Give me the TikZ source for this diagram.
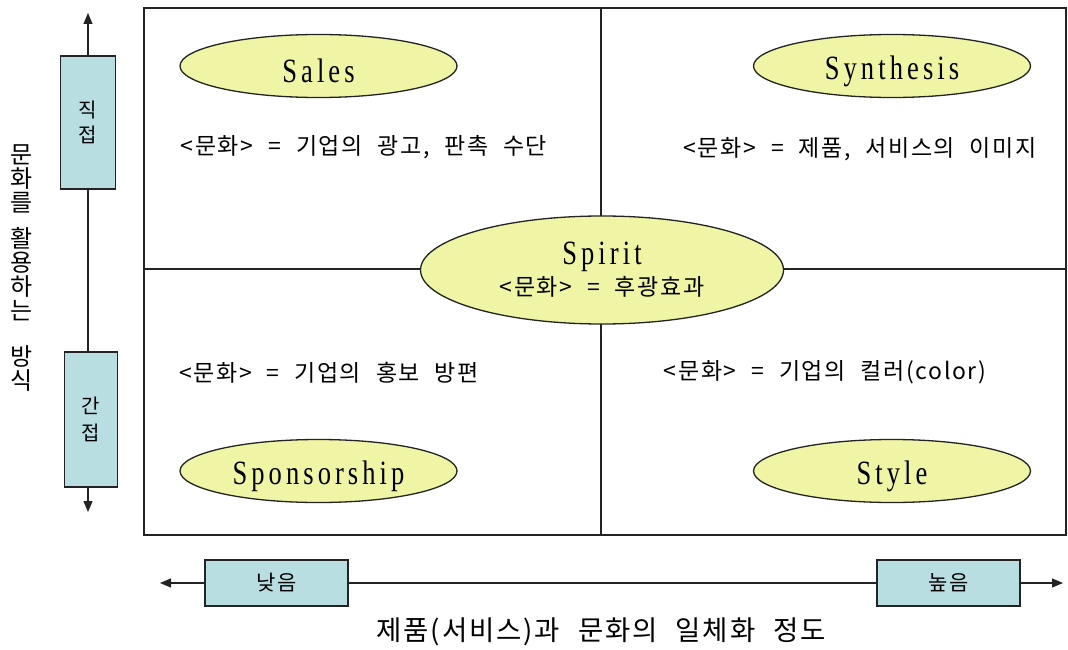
\documentclass[tikz,border=0pt]{standalone}
\usepackage{fontspec}
\setmainfont{Noto Sans CJK KR}[WordSpace=2.2,LetterSpace=7]
\newfontfamily\latser{Liberation Serif}[FakeStretch=0.78,LetterSpace=12]
\usetikzlibrary{shapes.geometric,arrows.meta}
\definecolor{ellfill}{RGB}{240,245,165}
\definecolor{boxfill}{RGB}{185,222,226}
\definecolor{lin}{RGB}{35,35,35}
\newcommand{\ovtxt}[1]{\raisebox{-5pt}[\height][\depth]{#1}}
\begin{document}
\begin{tikzpicture}[x=1pt,y=-1pt,
  oval/.style={ellipse, draw=lin, line width=1.3pt, fill=ellfill, minimum width=277pt, minimum height=63pt, inner sep=0pt, font=\latser\fontsize{34}{36}\selectfont},
  desc/.style={font=\fontsize{23}{26}\selectfont, inner sep=0pt},
  axbox/.style={draw=lin, line width=1.3pt, fill=boxfill, inner sep=0pt, align=center},
  axline/.style={line width=1.2pt, draw=lin},
  tip/.style={-{Triangle[length=11pt,width=9pt]}},
  divider/.style={line width=1.3pt, draw=lin},
]
\useasboundingbox (0,0) rectangle (1068,650);
\fill[white] (0,0) rectangle (1068,650);

% frame and dividers
\draw[line width=1.8pt, lin] (144,8) rectangle (1066,535);
\draw[divider] (601,8) -- (601,535);
\draw[divider] (144,269) -- (1066,269);

% ellipses
\node[oval] (sales) at (318.5,66) {\ovtxt{Sales}};
\node[oval] (synth) at (892,66) {\ovtxt{Synthesis}};
\node[oval] (spons) at (318.5,471) {\ovtxt{Sponsorship}};
\node[oval] (style) at (892,471) {\ovtxt{Style}};
\node[oval, minimum width=363pt, minimum height=108pt, align=center] (spirit) at (602,270)
  {Spirit\\[-5pt]{\rmfamily\fontsize{23}{26}\selectfont <문화> = 후광효과}};

% descriptions
\node[desc] (d1) at (364,147) {<문화> = 기업의 광고, 판촉 수단};
\node[desc] (d2) at (860,149) {<문화> = 제품, 서비스의 이미지};
\node[desc] (d3) at (329,373) {<문화> = 기업의 홍보 방편};
\node[desc] (d4) at (825,372) {<문화> = 기업의 컬러(color)};

% left axis
\node[axbox, minimum width=55pt, minimum height=133pt, font=\fontsize{20}{25}\selectfont] (direct) at (88,122.5) {직\\접};
\node[axbox, minimum width=53pt, minimum height=135pt, font=\fontsize{20}{27}\selectfont] (indirect) at (91,419.5) {간\\접};
\coordinate (vtop) at (88,13);
\coordinate (vbot) at (88,512);
\draw[axline,tip] (direct.north) -- (vtop);
\draw[axline] (direct.south) -- (direct.south |- indirect.north);
\draw[axline,tip] (direct.south |- indirect.south) -- (vbot);
\node[align=center, font=\fontsize{24}{24}\selectfont, inner sep=0pt] (vlabel) at (22,268)
  {문\\화\\를\\[12pt]활\\용\\하\\는\\[22pt]방\\식};

% bottom axis
\node[axbox, minimum width=143pt, minimum height=46pt, font=\fontsize{21}{24}\selectfont] (low) at (276.5,583) {낮음};
\node[axbox, minimum width=143pt, minimum height=46pt, font=\fontsize{21}{24}\selectfont] (high) at (948.5,583) {높음};
\coordinate (hleft) at (160,583);
\coordinate (hright) at (1063,583);
\draw[axline,tip] (low.west) -- (hleft);
\draw[axline] (low.east) -- (high.west);
\draw[axline,tip] (high.east) -- (hright);
\node[font=\fontsize{27.5}{30}\selectfont, inner sep=0pt] (hlabel) at (601,632) {제품(서비스)과 문화의 일체화 정도};
\end{tikzpicture}
\end{document}
